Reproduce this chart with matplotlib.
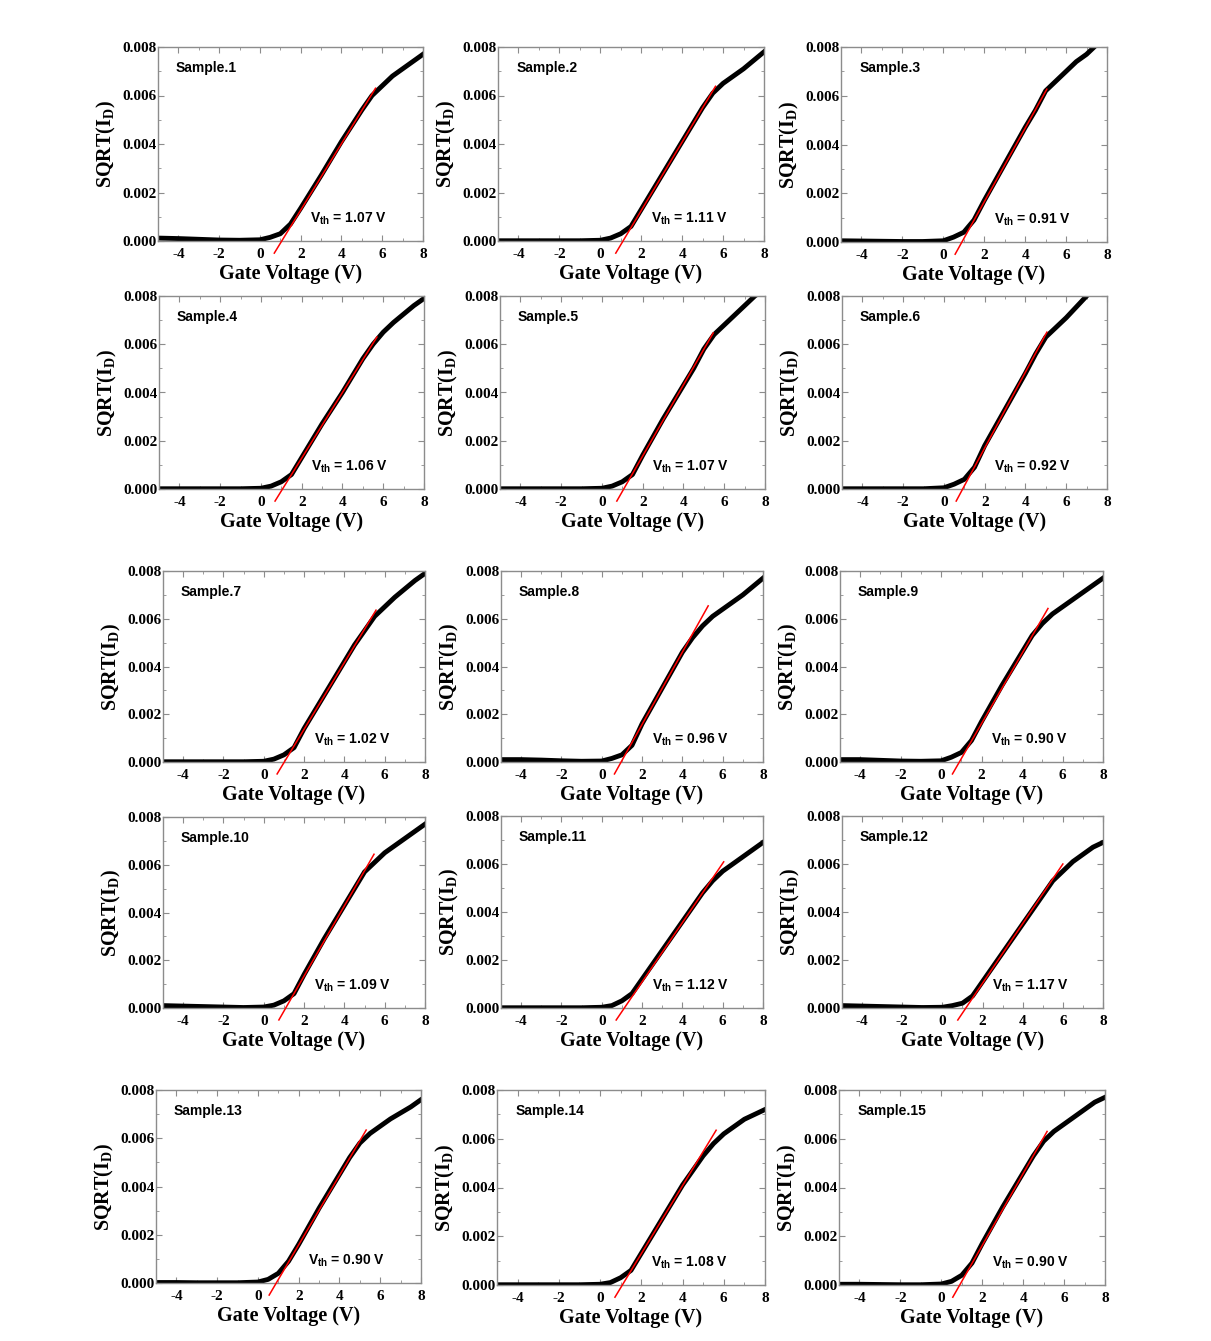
import numpy as np
import matplotlib
matplotlib.use('Agg')
import matplotlib.pyplot as plt
from matplotlib.ticker import MultipleLocator, FormatStrFormatter

plt.rcParams['axes.unicode_minus'] = False
plt.rcParams['mathtext.fontset'] = 'custom'
plt.rcParams['mathtext.bf'] = 'Liberation Serif:bold'
plt.rcParams['mathtext.sf'] = 'Liberation Sans:bold'
plt.rcParams['mathtext.rm'] = 'Liberation Sans:bold'

# gate voltage grid the curves were read on
gate_v = [-5, -4, -3, -2, -1, 0, 0.5, 1, 1.5, 2, 3, 4, 4.5, 5, 5.5, 6, 6.5, 7, 7.5, 8]

sample_names = ['Sample.%d' % i for i in range(1, 16)]

# threshold voltages (x-intercept of the red fit)
vth = [1.07, 1.11, 0.91, 1.06, 1.07, 0.92, 1.02, 0.96, 0.90,
       1.09, 1.12, 1.17, 0.90, 1.08, 0.90]

# upper end of the red fit line
fit_end_x = [5.67, 5.63, 5.06, 5.69, 5.46, 5.05, 5.57, 5.28, 5.28,
             5.47, 6.05, 6.00, 5.31, 5.63, 5.17]
fit_end_y = [0.0063, 0.00638, 0.00627, 0.0063, 0.00647, 0.0065, 0.00636, 0.00654, 0.00643,
             0.00644, 0.00609, 0.0060, 0.00634, 0.00635, 0.0063]

# SQRT(ID) at gate_v
sqrt_id_1 = [0.00012, 0.0001, 0.00007, 0.00004, 0.00003, 0.00005, 0.00015, 0.0003, 0.0007, 0.00135, 0.0027, 0.0041, 0.00475, 0.0054, 0.0060, 0.0064, 0.0068, 0.0071, 0.0074, 0.0077]
sqrt_id_2 = [0.00001, 0.00001, 0.00001, 0.00001, 0.00001, 0.00003, 0.00012, 0.0003, 0.0006, 0.0013, 0.0027, 0.0041, 0.0048, 0.0055, 0.0061, 0.0065, 0.0068, 0.0071, 0.00745, 0.0078]
sqrt_id_3 = [0.00005, 0.00004, 0.00003, 0.00002, 0.00002, 0.00005, 0.0002, 0.0004, 0.0009, 0.0017, 0.0032, 0.0047, 0.0054, 0.0062, 0.0066, 0.0070, 0.0074, 0.0077, 0.0081, 0.0084]
sqrt_id_4 = [0.00001, 0.00001, 0.00001, 0.00001, 0.00001, 0.00003, 0.00012, 0.0003, 0.0006, 0.0013, 0.0027, 0.0040, 0.0047, 0.0054, 0.0060, 0.0065, 0.0069, 0.00725, 0.0076, 0.0079]
sqrt_id_5 = [0.00001, 0.00001, 0.00001, 0.00001, 0.00001, 0.00003, 0.00012, 0.0003, 0.0006, 0.0014, 0.0029, 0.0043, 0.0050, 0.0058, 0.0064, 0.0068, 0.0072, 0.0076, 0.0080, 0.0083]
sqrt_id_6 = [0.00001, 0.00001, 0.00001, 0.00001, 0.00001, 0.00005, 0.0002, 0.0004, 0.0009, 0.0018, 0.0033, 0.0048, 0.0056, 0.0063, 0.0067, 0.0071, 0.00755, 0.0080, 0.0084, 0.0087]
sqrt_id_7 = [0.00001, 0.00001, 0.00001, 0.00001, 0.00001, 0.00003, 0.00012, 0.0003, 0.0006, 0.0014, 0.0028, 0.0042, 0.0049, 0.0055, 0.0061, 0.0065, 0.0069, 0.00725, 0.0076, 0.0079]
sqrt_id_8 = [0.0001, 0.0001, 0.00008, 0.00005, 0.00003, 0.00004, 0.00015, 0.0003, 0.0007, 0.0016, 0.0031, 0.0046, 0.0052, 0.0057, 0.0061, 0.0064, 0.0067, 0.0070, 0.00735, 0.0077]
sqrt_id_9 = [0.0001, 0.0001, 0.00007, 0.00004, 0.00003, 0.00005, 0.0002, 0.0004, 0.0009, 0.0017, 0.0032, 0.0046, 0.0053, 0.0058, 0.0062, 0.0065, 0.0068, 0.0071, 0.0074, 0.0077]
sqrt_id_10 = [0.0001, 0.00008, 0.00006, 0.00004, 0.00002, 0.00004, 0.00012, 0.0003, 0.0006, 0.0014, 0.0029, 0.0043, 0.0050, 0.0057, 0.0061, 0.0065, 0.0068, 0.0071, 0.0074, 0.0077]
sqrt_id_11 = [0.00001, 0.00001, 0.00001, 0.00001, 0.00001, 0.00003, 0.0001, 0.0003, 0.0006, 0.0012, 0.0024, 0.0036, 0.0042, 0.0048, 0.0053, 0.0057, 0.0060, 0.0063, 0.0066, 0.0069]
sqrt_id_12 = [0.0001, 0.00008, 0.00006, 0.00004, 0.00002, 0.00003, 0.0001, 0.0002, 0.0005, 0.0011, 0.0023, 0.0035, 0.0041, 0.0047, 0.0053, 0.0057, 0.0061, 0.0064, 0.0067, 0.0069]
sqrt_id_13 = [0.00002, 0.00002, 0.00001, 0.00001, 0.00001, 0.00004, 0.00015, 0.0004, 0.0009, 0.0016, 0.0031, 0.0045, 0.0052, 0.0058, 0.0062, 0.0065, 0.0068, 0.00705, 0.0073, 0.0076]
sqrt_id_14 = [0.00001, 0.00001, 0.00001, 0.00001, 0.00001, 0.00003, 0.0001, 0.0003, 0.0006, 0.0013, 0.0027, 0.0041, 0.0047, 0.0053, 0.0058, 0.0062, 0.0065, 0.0068, 0.0070, 0.0072]
sqrt_id_15 = [0.00003, 0.00003, 0.00002, 0.00001, 0.00001, 0.00004, 0.00015, 0.0004, 0.0009, 0.0017, 0.0032, 0.0046, 0.0053, 0.0059, 0.0063, 0.0066, 0.0069, 0.0072, 0.0075, 0.0077]

curves = [sqrt_id_1, sqrt_id_2, sqrt_id_3, sqrt_id_4, sqrt_id_5, sqrt_id_6, sqrt_id_7, sqrt_id_8,
          sqrt_id_9, sqrt_id_10, sqrt_id_11, sqrt_id_12, sqrt_id_13, sqrt_id_14, sqrt_id_15]

W, H = 1211, 1341
# panel boxes in pixels: (left, right, top, bottom)
boxes = [(158, 423, 47, 241), (498, 764, 47, 241), (841, 1107, 47, 242),
         (159, 424, 296, 489), (500, 765, 296, 489), (842, 1107, 296, 489),
         (163, 425, 571, 762), (501, 763, 571, 762), (840, 1103, 571, 762),
         (163, 425, 817, 1008), (501, 763, 816, 1008), (842, 1103, 816, 1008),
         (156, 421, 1090, 1283), (497, 765, 1090, 1285), (839, 1105, 1090, 1285)]

SERIF = 'Liberation Serif'
SANS = 'Liberation Sans'
FRAME = '#8c8c8c'

fig = plt.figure(figsize=(W / 100, H / 100), dpi=100)

for i in range(15):
    l, r, t, b = boxes[i]
    ax = fig.add_axes([l / W, 1 - b / H, (r - l) / W, (b - t) / H])

    ax.plot(gate_v, curves[i], color='black', lw=3.5, solid_joinstyle='round', zorder=2)

    # linear fit, extended a little below zero like the original
    slope = fit_end_y[i] / (fit_end_x[i] - vth[i])
    x0 = vth[i] - 0.0005 / slope
    ax.plot([x0, fit_end_x[i]], [-0.0005, fit_end_y[i]], color='red', lw=1.1,
            clip_on=False, zorder=3)

    ax.set_xlim(-5, 8)
    ax.set_ylim(0, 0.008)
    ax.xaxis.set_major_locator(MultipleLocator(2))
    ax.xaxis.set_minor_locator(MultipleLocator(1))
    ax.yaxis.set_major_locator(MultipleLocator(0.002))
    ax.yaxis.set_minor_locator(MultipleLocator(0.001))
    ax.yaxis.set_major_formatter(FormatStrFormatter('%.3f'))
    ax.tick_params(which='both', direction='in', top=True, right=True, color=FRAME)
    ax.tick_params(which='major', length=4, width=0.8)
    ax.tick_params(which='minor', length=2, width=0.6)
    ax.tick_params(axis='x', pad=5)
    ax.tick_params(axis='y', pad=1)
    for sp in ax.spines.values():
        sp.set_color(FRAME)
        sp.set_linewidth(1.0)
    for lab in ax.get_xticklabels() + ax.get_yticklabels():
        lab.set_fontfamily(SERIF)
        lab.set_fontweight('bold')
        lab.set_fontsize(11)

    ax.set_xlabel('Gate Voltage (V)', fontfamily=SERIF, fontweight='bold', fontsize=14.5, labelpad=2)
    ax.set_ylabel(r'SQRT(I$_{\mathbf{D}}$)', fontfamily=SERIF, fontweight='bold', fontsize=14.5, labelpad=3)

    ax.text(0.068, 0.89, sample_names[i], transform=ax.transAxes, fontfamily=SANS,
            fontweight='bold', fontsize=10, va='center', ha='left')
    ax.text(0.575, 0.115, r'V$_{\mathsf{th}}$ = %.2f V' % vth[i], transform=ax.transAxes,
            fontfamily=SANS, fontweight='bold', fontsize=10, va='center', ha='left')

fig.savefig('out.png', dpi=100, facecolor='white')
